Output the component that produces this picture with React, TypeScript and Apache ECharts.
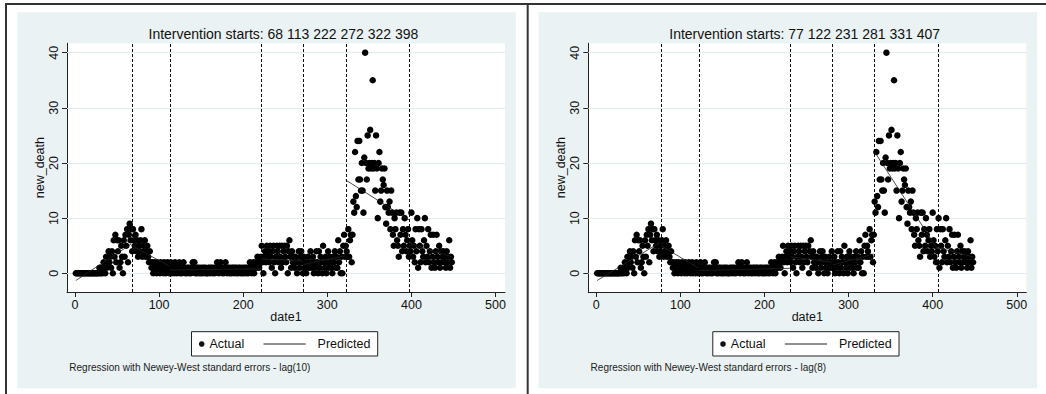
import React, { useEffect, useRef } from "react";
import * as echarts from "echarts";

// ---------- data ----------
const FIRST_DATE = 1;
// new_death by date1 (date1 = FIRST_DATE + index)
const newDeath: number[] = [
  0, 0, 0, 0, 0, 0, 0, 0, 0, 0,
  0, 0, 0, 0, 0, 0, 0, 0, 0, 0,
  0, 0, 0, 0, 0, 0, 0, 0, 1, 0,
  0, 1, 0, 2, 1, 0, 3, 1, 2, 4,
  2, 3, 1, 4, 0, 6, 3, 7, 2, 6,
  4, 6, 1, 2, 5, 3, 0, 6, 3, 7,
  5, 8, 2, 7, 9, 6, 8, 4, 8, 6,
  5, 7, 4, 6, 3, 5, 4, 6, 8, 3,
  5, 4, 6, 3, 4, 5, 3, 2, 4, 2,
  1, 2, 0, 1, 2, 1, 0, 2, 1, 1,
  0, 2, 1, 1, 0, 2, 1, 0, 1, 2,
  1, 0, 1, 2, 0, 1, 1, 0, 2, 1,
  0, 1, 1, 2, 0, 1, 0, 1, 2, 1,
  0, 1, 0, 1, 1, 0, 1, 0, 1, 2,
  1, 2, 0, 1, 0, 1, 1, 0, 1, 0,
  1, 0, 1, 1, 0, 1, 0, 0, 1, 1,
  0, 1, 1, 0, 1, 0, 1, 1, 2, 1,
  0, 1, 2, 1, 0, 1, 0, 1, 2, 1,
  0, 1, 1, 0, 1, 0, 1, 1, 0, 1,
  1, 0, 1, 0, 1, 1, 0, 1, 0, 1,
  0, 1, 1, 0, 1, 0, 1, 2, 1, 0,
  1, 2, 0, 1, 2, 1, 3, 2, 1, 2,
  3, 5, 2, 0, 3, 4, 2, 5, 3, 4,
  2, 5, 3, 1, 4, 5, 2, 0, 3, 5,
  4, 2, 5, 3, 1, 5, 2, 4, 5, 3,
  2, 5, 0, 4, 6, 3, 1, 4, 2, 3,
  1, 3, 2, 0, 2, 4, 1, 3, 4, 2,
  0, 3, 1, 2, 0, 1, 3, 2, 1, 4,
  2, 1, 3, 0, 2, 1, 4, 2, 0, 4,
  1, 3, 2, 0, 5, 2, 1, 3, 0, 2,
  4, 1, 3, 2, 1, 0, 3, 2, 4, 1,
  3, 1, 6, 2, 4, 0, 3, 0, 5, 7,
  3, 5, 4, 3, 8, 3, 6, 7, 2, 7,
  13, 11, 22, 14, 12, 24, 17, 24, 17, 15,
  20, 15, 11, 21, 40, 20, 17, 25, 19, 20,
  26, 19, 20, 35, 19, 20, 15, 25, 19, 10,
  20, 22, 13, 15, 19, 17, 16, 19, 12, 9,
  15, 12, 11, 13, 8, 15, 11, 7, 5, 10,
  8, 11, 6, 5, 3, 11, 7, 11, 4, 8,
  5, 10, 7, 4, 6, 8, 3, 5, 4, 11,
  6, 3, 5, 2, 8, 4, 10, 1, 8, 5,
  2, 8, 4, 3, 6, 10, 2, 5, 3, 8,
  2, 4, 7, 1, 3, 7, 2, 1, 4, 7,
  3, 2, 5, 1, 4, 2, 3, 4, 2, 3,
  1, 4, 2, 3, 6, 1, 3, 2,
];

const leftCuts = [68, 113, 222, 272, 322, 398];
const rightCuts = [77, 122, 231, 281, 331, 407];

// predicted values: segment end points [date1, predicted]
const predictedLeft: [number, number][][] = [
  [[1, -1.3], [67, 5.3]],
  [[68, 5.0], [112, 1.3]],
  [[113, 0.6], [221, 0.8]],
  [[222, 2.6], [271, 2.2]],
  [[272, 1.6], [321, 3.2]],
  [[322, 16.9], [397, 9.7]],
  [[398, 5.4], [448, 3.0]],
];
const predictedRight: [number, number][][] = [
  [[1, -1.3], [76, 5.6]],
  [[77, 5.0], [121, 1.0]],
  [[122, 0.5], [230, 0.9]],
  [[231, 3.0], [280, 2.0]],
  [[281, 1.5], [330, 3.5]],
  [[331, 22.0], [406, 4.3]],
  [[407, 4.6], [448, 3.0]],
];

const xTicks = [0, 100, 200, 300, 400, 500];
const yTicks = [0, 10, 20, 30, 40];
const notes = [
  "Regression with Newey-West standard errors - lag(10)",
  "Regression with Newey-West standard errors - lag(8)",
];

// ---------- styling ----------
const FONT = "'Liberation Sans', Arial, sans-serif";
const INK = "#111111";
const BG = "#EAF2F3";
const GRIDLINE = "#E3ECEC";
const PANEL_DX = 521.3;

export default function App() {
  const ref = useRef<HTMLDivElement>(null);

  useEffect(() => {
    document.body.style.margin = "0";
    if (!ref.current) return;
    const chart = echarts.init(ref.current, undefined, { renderer: "svg" });

    const panels = [
      { cuts: leftCuts, pred: predictedLeft, note: notes[0] },
      { cuts: rightCuts, pred: predictedRight, note: notes[1] },
    ];

    const scatterData = newDeath.map((v, i) => [FIRST_DATE + i, v]);

    const grids: any[] = [];
    const xAxes: any[] = [];
    const yAxes: any[] = [];
    const series: any[] = [];
    const graphics: any[] = [];

    panels.forEach((p, k) => {
      const dx = k * PANEL_DX;
      grids.push({
        left: 67 + dx,
        top: 43.3,
        width: 438,
        height: 248.7,
        show: true,
        backgroundColor: "#ffffff",
        borderWidth: 0,
        containLabel: false,
        outerBoundsMode: "none",
      });
      xAxes.push({
        type: "value",
        gridIndex: k,
        min: -9.5,
        max: 511.3,
        name: "date1",
        nameLocation: "middle",
        nameGap: 18,
        nameMoveOverlap: false,
        nameTextStyle: { fontSize: 12.5, color: INK, fontFamily: FONT },
        axisLine: { show: true, onZero: false, lineStyle: { color: "#222", width: 1 } },
        axisTick: { show: true, length: 5, customValues: xTicks, lineStyle: { color: "#222", width: 1 } },
        axisLabel: { show: true, customValues: xTicks, margin: 6, fontSize: 12.5, color: INK, fontFamily: FONT },
        splitLine: { show: false },
      });
      yAxes.push({
        type: "value",
        gridIndex: k,
        min: -3.39,
        max: 41.7,
        name: "new_death",
        nameLocation: "middle",
        nameGap: 21,
        nameMoveOverlap: false,
        nameTextStyle: { fontSize: 12.5, color: INK, fontFamily: FONT },
        axisLine: { show: true, onZero: false, lineStyle: { color: "#222", width: 1 } },
        axisTick: { show: true, length: 5, customValues: yTicks, lineStyle: { color: "#222", width: 1 } },
        axisLabel: { show: true, customValues: yTicks, rotate: 90, margin: 7, fontSize: 12.5, color: INK, fontFamily: FONT },
        splitLine: { show: false },
      });

      // horizontal grid lines (drawn through the axis scale)
      series.push({
        type: "line",
        xAxisIndex: k,
        yAxisIndex: k,
        data: [[0, 0]],
        showSymbol: false,
        symbol: "none",
        lineStyle: { opacity: 0 },
        silent: true,
        z: 1,
        markLine: {
          silent: true,
          symbol: ["none", "none"],
          label: { show: false },
          z: 1,
          lineStyle: { color: GRIDLINE, width: 1.2, type: "solid" },
          emphasis: { disabled: true },
          data: yTicks.map((v) => ({ yAxis: v })),
        },
      });

      series.push({
        type: "scatter",
        name: "Actual",
        xAxisIndex: k,
        yAxisIndex: k,
        data: scatterData,
        symbol: "circle",
        symbolSize: 6.5,
        itemStyle: { color: "#000000", opacity: 1 },
        z: 10,
        silent: true,
        markLine: {
          silent: true,
          symbol: ["none", "none"],
          label: { show: false },
          lineStyle: { color: "#111", width: 1, type: [3, 2] },
          emphasis: { disabled: true },
          data: p.cuts.map((c) => ({ xAxis: c })),
        },
      });

      p.pred.forEach((seg) => {
        series.push({
          type: "line",
          name: "Predicted",
          xAxisIndex: k,
          yAxisIndex: k,
          data: seg,
          showSymbol: false,
          symbol: "none",
          lineStyle: { color: "#222", width: 0.8 },
          z: 11,
          silent: true,
        });
      });

      // panel background
      graphics.push({
        type: "rect",
        z: -10,
        shape: { x: 17.3 + dx, y: 12.3, width: 498.5, height: 376 },
        style: { fill: BG },
        silent: true,
      });
      // title
      graphics.push({
        type: "text",
        x: 283.4 + dx,
        y: 33.5,
        style: {
          text: "Intervention starts: " + p.cuts.join(" "),
          fontSize: 14,
          fontFamily: FONT,
          fill: INK,
          align: "center",
          verticalAlign: "middle",
          textAlign: "center",
          textVerticalAlign: "middle",
        },
      });
      // legend
      graphics.push({
        type: "rect",
        shape: { x: 191.5 + dx, y: 331.7, width: 186.2, height: 24.3 },
        style: { fill: "#ffffff", stroke: "#222", lineWidth: 1 },
      });
      graphics.push({
        type: "circle",
        shape: { cx: 201.7 + dx, cy: 344, r: 2.8 },
        style: { fill: INK },
      });
      graphics.push({
        type: "text",
        x: 209.5 + dx,
        y: 344,
        style: {
          text: "Actual",
          fontSize: 12.5,
          fontFamily: FONT,
          fill: INK,
          align: "left",
          verticalAlign: "middle",
          textAlign: "left",
          textVerticalAlign: "middle",
        },
      });
      graphics.push({
        type: "line",
        shape: { x1: 263.5 + dx, y1: 344, x2: 305.7 + dx, y2: 344 },
        style: { stroke: "#222", lineWidth: 1 },
      });
      graphics.push({
        type: "text",
        x: 317.6 + dx,
        y: 344,
        style: {
          text: "Predicted",
          fontSize: 12.5,
          fontFamily: FONT,
          fill: INK,
          align: "left",
          verticalAlign: "middle",
          textAlign: "left",
          textVerticalAlign: "middle",
        },
      });
      // note
      graphics.push({
        type: "text",
        x: 69.3 + dx,
        y: 367,
        style: {
          text: p.note,
          fontSize: 10,
          fontFamily: FONT,
          fill: "#222",
          align: "left",
          verticalAlign: "middle",
          textAlign: "left",
          textVerticalAlign: "middle",
        },
      });
    });

    // outer frame
    graphics.push({
      type: "line",
      shape: { x1: 5, y1: 4, x2: 1046, y2: 4 },
      style: { stroke: "#333", lineWidth: 2 },
    });
    graphics.push({
      type: "line",
      shape: { x1: 6, y1: 3, x2: 6, y2: 394 },
      style: { stroke: "#333", lineWidth: 2 },
    });
    graphics.push({
      type: "line",
      shape: { x1: 527.7, y1: 3, x2: 527.7, y2: 394 },
      style: { stroke: "#333", lineWidth: 2 },
    });

    chart.setOption({
      animation: false,
      backgroundColor: "#ffffff",
      textStyle: { fontFamily: FONT },
      grid: grids,
      xAxis: xAxes,
      yAxis: yAxes,
      series,
      graphic: { elements: graphics },
      tooltip: { show: false },
    });

    return () => {
      chart.dispose();
    };
  }, []);

  return <div ref={ref} style={{ width: 1046, height: 394 }} />;
}
